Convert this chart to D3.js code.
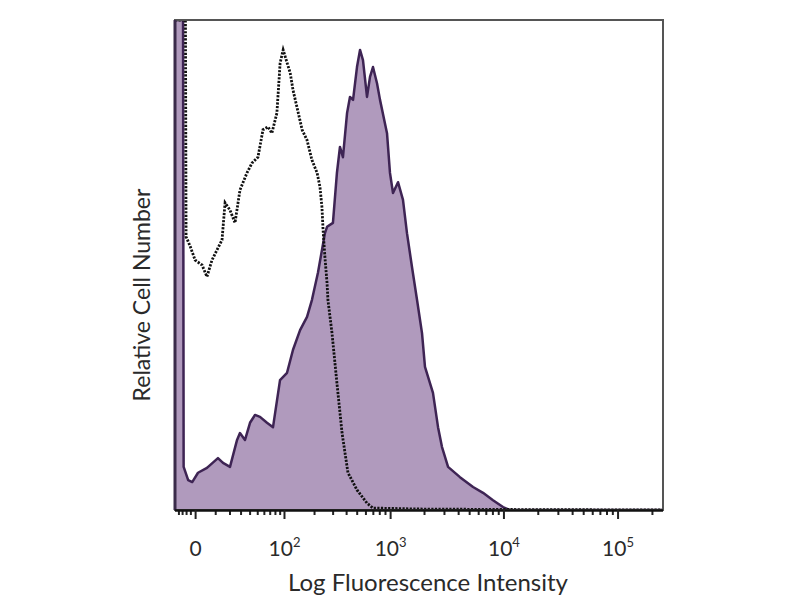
<!DOCTYPE html>
<html>
<head>
    <title>Histogram</title>
    <script src="https://cdn.jsdelivr.net/npm/d3@7"></script>
    <style>
        body { margin: 0; background: #fff; }
        text { font-family: Lato, "Open Sans", sans-serif; fill: #2a2a2a; }
    </style>
</head>
<body>
    <svg width="800" height="600" id="mainsvg"></svg>
    <script>
        // isotype control (dotted) and stained sample (filled)
        const ctrlIntensity = [-10, -4.3, -4, -3.7, -2, 0, 3, 5.4, 8.1, 11.1, 14.4, 16.6, 20.4, 24.7, 29.4, 36.9,
            43, 51, 58.6, 67, 74, 84, 91, 98, 108, 116, 124, 136, 153, 171, 191, 214, 228, 238, 244, 254,
            266, 271, 296, 329, 367, 416, 503, 620, 702, 1840, 11400, 250000];
        const ctrlCount = [100, 100, 55.7, 55.5, 53.7, 51, 50, 47.6, 51, 53.1, 55.1, 62.7, 61.2, 58.6, 65.3, 68.8,
            70.8, 72, 77.6, 78.2, 76.9, 81, 91.2, 93.9, 91.2, 89.2, 85.7, 82.2, 77.6, 75.5, 71.4, 68.8, 65.9, 61.8, 57.1, 51.6,
            46.3, 42.9, 36.1, 25.9, 15.7, 7.6, 4.1, 1.4, 0.4, 0.2, 0.1, 0];

        const stainIntensity = [-10, -5.5, -5.2, -3, -1.2, 1.2, 5.4, 11.7, 15.1, 20.4, 26.6, 29.4, 34.7, 40.5, 46.9,
            54, 65.2, 76.2, 90.8, 107.6, 124, 146, 171, 191, 218, 254, 266, 302, 329, 351,
            374, 408, 434, 463, 503, 536, 570, 620, 660, 702, 763, 812, 938, 997, 1061,
            1176, 1302, 1413, 1565, 1734, 1920, 2040, 2400, 2660, 2880, 3260, 4150, 5410, 6620, 8100,
            9910, 11420, 250000];
        const stainCount = [100, 100, 8.8, 6.1, 5.7, 7.6, 8.6, 10.6, 9.6, 8.8, 14.3, 15.7, 14.3, 17.8, 19.4,
            19.0, 17.8, 16.9, 26.5, 28.0, 32.7, 36.7, 39.4, 42.9, 48.4, 56.5, 57.8, 58.6, 68.8, 74.1,
            72.0, 81.0, 84.3, 83.7, 90.4, 93.9, 91.8, 84.3, 88.4, 90.4, 87.1, 83.7, 76.9, 68.8, 64.7,
            66.9, 63.3, 56.5, 49.6, 42.9, 36.1, 29.2, 23.9, 16.9, 12.9, 8.8, 6.7, 4.7, 3.5, 2.0,
            0.6, 0, 0];

        const majorTicks = [0, 100, 1000, 10000, 100000];
        const majorLabels = ['0', '2', '3', '4', '5']; // exponents, first one is plain "0"
        const minorTicks = [-8, -6, -4, -2, 10, 20, 30, 40, 50, 60, 70, 80, 90,
            200, 300, 400, 500, 600, 700, 800, 900,
            2000, 3000, 4000, 5000, 6000, 7000, 8000, 9000,
            20000, 30000, 40000, 50000, 60000, 70000, 80000, 90000, 200000];

        const svg = d3.select('svg');
        const plotLeft = 175, plotRight = 663, plotTop = 20, plotBottom = 510;

        const x = d3.scaleSymlog().constant(20).domain([-10, 250000]).range([plotLeft, plotRight]);
        const y = d3.scaleLinear().domain([0, 100]).range([plotBottom, plotTop]);

        svg.append('clipPath').attr('id', 'plotclip')
            .append('rect').attr('x', plotLeft).attr('y', plotTop)
            .attr('width', plotRight - plotLeft).attr('height', plotBottom - plotTop);

        const stain = stainIntensity.map((v, i) => [v, stainCount[i]]);
        const ctrl = ctrlIntensity.map((v, i) => [v, ctrlCount[i]]);

        const plot = svg.append('g').attr('clip-path', 'url(#plotclip)');

        const area = d3.area().x(d => x(d[0])).y0(y(0)).y1(d => y(d[1]));
        const line = d3.line().x(d => x(d[0])).y(d => y(d[1]));

        plot.append('path').datum(stain)
            .attr('d', area)
            .attr('fill', '#b09abd');
        plot.append('path').datum(stain)
            .attr('d', line)
            .attr('fill', 'none')
            .attr('stroke', '#3e2454')
            .attr('stroke-width', 2.5)
            .attr('stroke-linejoin', 'round');

        plot.append('path').datum(ctrl)
            .attr('d', line)
            .attr('fill', 'none')
            .attr('stroke', '#111')
            .attr('stroke-width', 2.8)
            .attr('stroke-dasharray', '2.2,1.4');

        // frame
        svg.append('rect')
            .attr('x', plotLeft).attr('y', plotTop)
            .attr('width', plotRight - plotLeft).attr('height', plotBottom - plotTop)
            .attr('fill', 'none').attr('stroke', '#555').attr('stroke-width', 2);
        svg.append('line')
            .attr('x1', plotLeft).attr('x2', plotLeft).attr('y1', plotTop).attr('y2', plotBottom)
            .attr('stroke', '#3a2b4a').attr('stroke-width', 3);

        // minor ticks
        svg.append('g')
            .attr('transform', `translate(0,${plotBottom})`)
            .call(d3.axisBottom(x).tickValues(minorTicks).tickSize(5).tickFormat(''))
            .call(g => g.select('.domain').remove())
            .call(g => g.selectAll('line').attr('stroke', '#222').attr('stroke-width', 2));

        // major ticks + labels
        const xAxis = svg.append('g')
            .attr('transform', `translate(0,${plotBottom})`)
            .call(d3.axisBottom(x).tickValues(majorTicks).tickSize(9).tickPadding(22));
        xAxis.select('.domain').attr('stroke', '#111').attr('stroke-width', 2.5)
            .attr('d', `M${plotLeft},0.5H${plotRight}`);
        xAxis.selectAll('line').attr('stroke', '#222').attr('stroke-width', 2);
        xAxis.selectAll('.tick text').each(function (d, i) {
            const t = d3.select(this).text('')
                .attr('font-size', 21).attr('fill', '#2a2a2a')
                .style('font-family', 'Lato, "Open Sans", sans-serif');
            if (i === 0) {
                t.text('0');
            } else {
                t.append('tspan').text('10');
                t.append('tspan').text(majorLabels[i]).attr('font-size', 13).attr('dy', -9);
            }
        });

        svg.append('text')
            .attr('x', 428).attr('y', 591)
            .attr('text-anchor', 'middle')
            .attr('font-size', 24)
            .text('Log Fluorescence Intensity');

        svg.append('text')
            .attr('transform', 'translate(150,295) rotate(-90)')
            .attr('text-anchor', 'middle')
            .attr('font-size', 23)
            .text('Relative Cell Number');
    </script>
</body>
</html>
